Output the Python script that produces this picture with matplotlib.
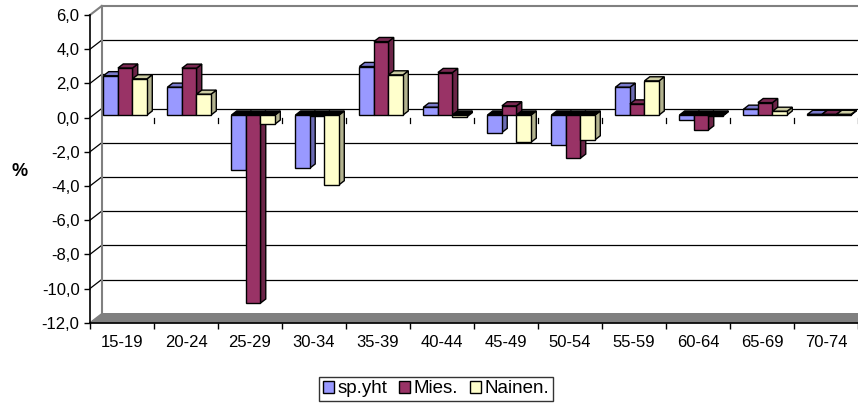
import matplotlib.pyplot as plt
from matplotlib.patches import Polygon, Patch
import numpy as np

plt.rcParams['font.family'] = ['Liberation Sans', 'DejaVu Sans']

ages = ["15-19", "20-24", "25-29", "30-34", "35-39", "40-44",
        "45-49", "50-54", "55-59", "60-64", "65-69", "70-74"]
sp_yht = [2.3, 1.63, -3.2, -3.1, 2.84, 0.46, -1.02, -1.74, 1.63, -0.28, 0.34, 0.04]
mies = [2.75, 2.74, -11.0, -0.03, 4.3, 2.49, 0.54, -2.52, 0.65, -0.87, 0.73, 0.04]
nainen = [2.12, 1.22, -0.53, -4.08, 2.35, -0.1, -1.59, -1.45, 2.0, -0.05, 0.22, 0.04]
series_names = ["sp.yht", "Mies.", "Nainen."]
yticks = np.arange(-12, 7, 2)

colors = ["#9999FF", "#993366", "#FFFFCC"]
sides = ["#6B6BB3", "#6B2447", "#B3B38F"]
tops = ["#7A7ACC", "#7A2952", "#CCCCA3"]

# depth of the walls and bars (oblique 3D look), in data units
WDX, WDY = 11.7 / 64, 9 / 17.1
FX, FY = 3.2 / 64, 2.5 / 17.1
BDX, BDY = 5.3 / 64, 4.1 / 17.1
bw = 0.227

fig = plt.figure(figsize=(8.58, 4.03), dpi=100)
ax = fig.add_axes([90 / 858, (403 - 322.7) / 403, 768 / 858, (322.7 - 15) / 403])
ax.set_xlim(0, 12)
ax.set_ylim(-12, 6)
n = len(ages)

# floor
ax.add_patch(Polygon([(0, -12), (WDX, -12 + WDY), (n + WDX, -12 + WDY), (n, -12)],
                     closed=True, fc="#808080", ec="#808080", lw=1, zorder=1, clip_on=False))
# back wall grid and side diagonals
for v in yticks:
    if v == -12:
        continue
    c = "#808080" if v == 6 else "black"
    lw = 1.5 if v == 6 else 0.9
    ax.plot([WDX, n + WDX], [v + WDY, v + WDY], color=c, lw=lw, zorder=1, clip_on=False)
    ax.plot([0, WDX], [v, v + WDY], color=c, lw=lw, zorder=1, clip_on=False)
ax.plot([WDX, WDX], [-12 + WDY, 6 + WDY], color="#808080", lw=1.5, zorder=1, clip_on=False)

# category ticks at zero on the front plane
for i in range(1, n + 1):
    ax.plot([i, i], [0, -0.31], color="black", lw=0.9, zorder=1.5, clip_on=False)


def bar3d(x0, v, ci):
    x = x0 + FX
    b = FY
    t = b + v
    kw = dict(closed=True, ec="black", lw=1.0, zorder=3, clip_on=False, joinstyle="miter")
    if v >= 0:
        side = [(x + bw, b), (x + bw, t), (x + bw + BDX, t + BDY), (x + bw + BDX, b + BDY)]
        top = [(x, t), (x + bw, t), (x + bw + BDX, t + BDY), (x + BDX, t + BDY)]
        ax.add_patch(Polygon(side, fc=sides[ci], **kw))
        ax.add_patch(Polygon(top, fc=tops[ci], **kw))
        ax.add_patch(Polygon([(x, b), (x + bw, b), (x + bw, t), (x, t)], fc=colors[ci], **kw))
    else:
        side = [(x + bw, t), (x + bw, b), (x + bw + BDX, b + BDY), (x + bw + BDX, t + BDY)]
        top = [(x, b), (x + bw, b), (x + bw + BDX, b + BDY), (x + BDX, b + BDY)]
        ax.add_patch(Polygon(side, fc=sides[ci], **kw))
        ax.add_patch(Polygon(top, fc="black", **kw))
        ax.add_patch(Polygon([(x, t), (x + bw, t), (x + bw, b), (x, b)], fc=colors[ci], **kw))


for i in range(n):
    for ci, vals in enumerate([sp_yht, mies, nainen]):
        x0 = i + 0.5 - 1.5 * bw + ci * bw
        bar3d(x0, vals[i], ci)

for s in ["top", "right"]:
    ax.spines[s].set_visible(False)
ax.spines["left"].set_linewidth(1.2)
ax.spines["bottom"].set_linewidth(1.2)
ax.set_yticks(yticks)
ax.set_yticklabels([f"{v:.1f}".replace(".", ",") for v in yticks], fontsize=12)
ax.set_xticks(np.arange(0, n + 1))
ax.set_xticklabels([])
ax.set_xticks(np.arange(n) + 0.5, minor=True)
ax.set_xticklabels(ages, minor=True, fontsize=12)
ax.tick_params(axis="y", direction="out", length=4.5, width=1, pad=3)
ax.tick_params(axis="x", which="major", direction="out", length=4, width=1)
ax.tick_params(axis="x", which="minor", length=0, pad=9)
ax.set_facecolor("none")

fig.text(20 / 858, 1 - 172 / 403, "%", fontsize=13, fontweight="bold", ha="center", va="center")

handles = [Patch(fc=c, ec="black", lw=1) for c in colors]
leg = fig.legend(handles, series_names, loc="lower center", bbox_to_anchor=(436 / 858, 0.0),
                 ncol=3, fontsize=13.5, frameon=True, fancybox=False, edgecolor="black",
                 handlelength=0.6, handleheight=0.6, handletextpad=0.2, columnspacing=0.6,
                 borderpad=0.2, borderaxespad=0.1)
leg.get_frame().set_linewidth(1)

fig.savefig("out.png", dpi=100)
